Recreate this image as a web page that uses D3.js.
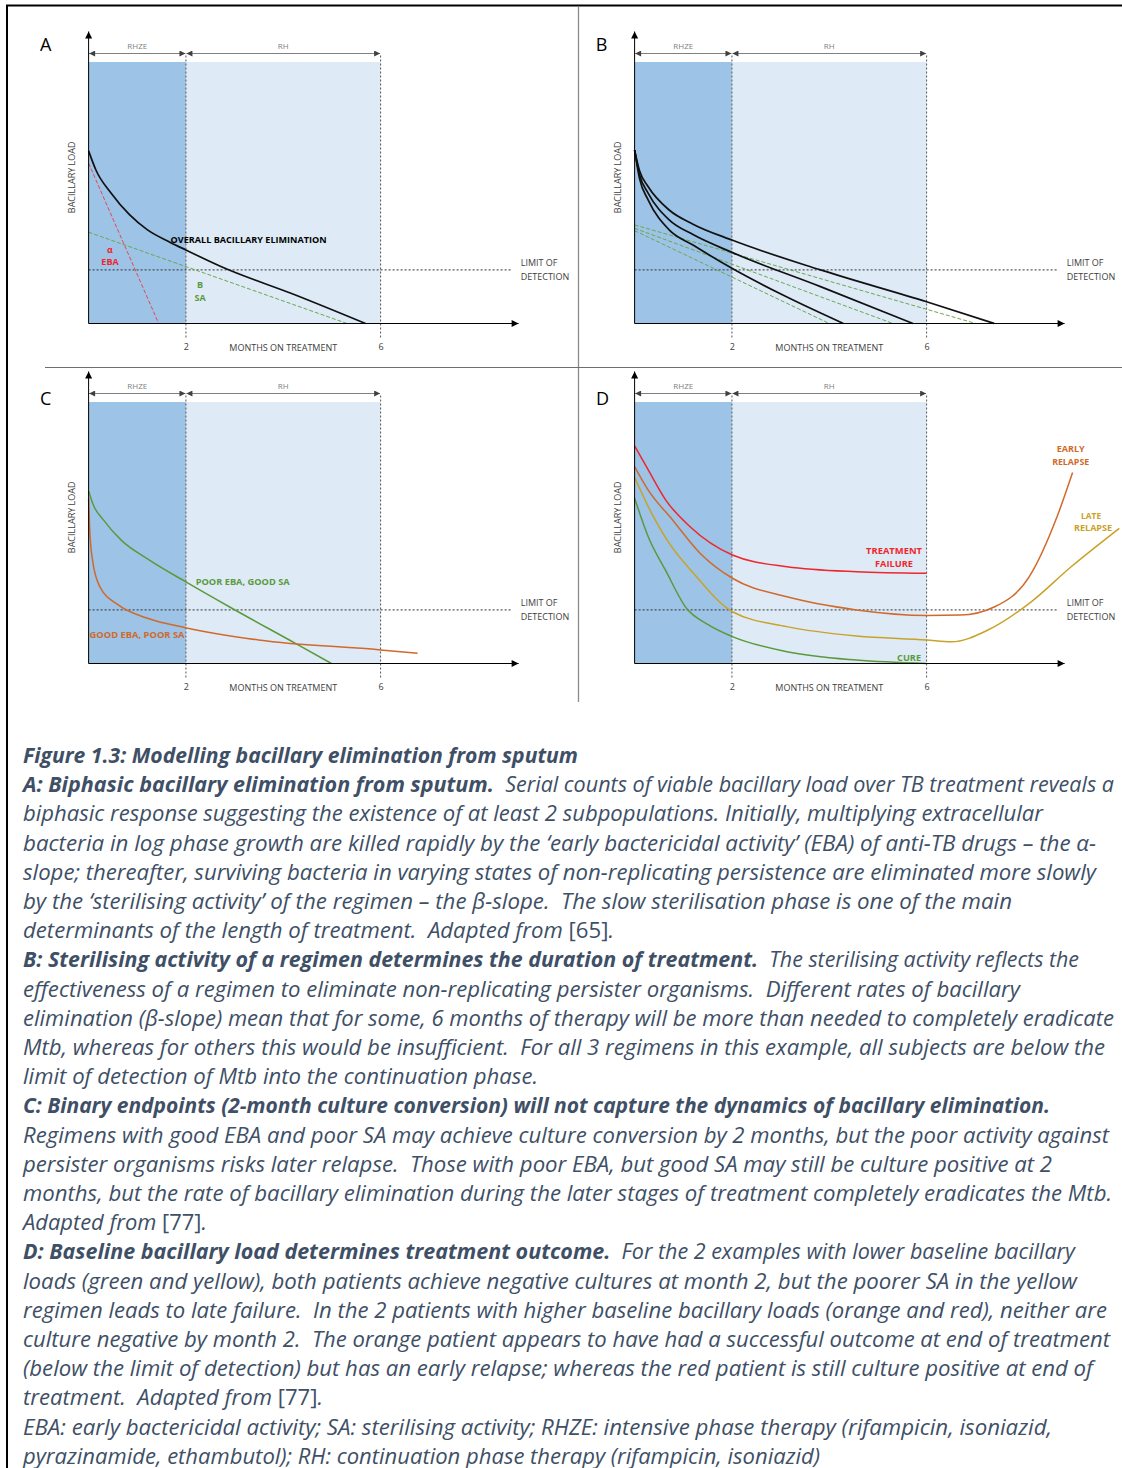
<!DOCTYPE html>
<html lang="en">
<head>
<meta charset="utf-8">
<title>Figure 1.3: Modelling bacillary elimination from sputum</title>
<script src="https://cdnjs.cloudflare.com/ajax/libs/d3/7.8.5/d3.min.js"></script>
<style>
  body { margin: 0; background: #fff; }
  svg { display: block; font-family: 'Open Sans', sans-serif; }
  .axislabel { font-size: 9px; fill: #404040; }
  .phase { font-size: 8px; fill: #808080; }
  .panelid { font-size: 18px; fill: #000; }
  .caption { font-size: 22px; fill: #3e4f66; font-style: italic; white-space: pre; }
</style>
</head>
<body>
<svg id="fig" width="1122" height="1468"></svg>
<script>
// ---- data (months, bacillary load in arbitrary units) ----
var monthTicks = [2, 6];
var phases = [{ name: "RHZE", from: 0, to: 2 }, { name: "RH", from: 2, to: 6 }];
var limitOfDetection = 2.05;

// A: biphasic elimination
var aOverall = [[0, 6.6], [0.15, 5.87], [0.46, 4.99], [0.84, 4.16], [1.21, 3.58], [1.67, 3.11], [2, 2.81], [2.73, 2.17], [4.25, 1.09], [5.69, 0]];
var aAlpha = [[0, 6.13], [1.44, 0]];
var aBeta = [[0, 3.49], [5.31, 0]];

// B: three regimens with different sterilising activity
var bSlow = [[0, 6.63], [0.1, 5.85], [0.28, 5.23], [0.71, 4.34], [1.2, 3.8], [2, 3.19], [3.82, 2.05], [6, 0.83], [7.39, 0]];
var bMid = [[0, 6.63], [0.1, 5.7], [0.28, 4.98], [0.71, 3.96], [1.2, 3.4], [2, 2.72], [3.82, 1.41], [5.72, 0]];
var bFast = [[0, 6.63], [0.1, 5.55], [0.28, 4.72], [0.71, 3.58], [1.2, 3.0], [2, 2.11], [3.11, 1.03], [4.29, 0]];
var bBetaSlow = [[0, 3.77], [7.01, 0]];
var bBetaMid = [[0, 3.64], [5.31, 0]];
var bBetaFast = [[0, 3.55], [4.0, 0]];

// C: good EBA / poor SA vs poor EBA / good SA
var cPoorEba = [[0, 6.6], [0.1, 6.05], [0.3, 5.5], [0.68, 4.7], [1.21, 4.0], [1.99, 3.13], [2.89, 2.17], [4.25, 0.77], [4.99, 0]];
var cGoodEba = [[0, 6.32], [0.02, 5.23], [0.08, 3.96], [0.23, 2.94], [0.61, 2.24], [1.21, 1.73], [1.99, 1.37], [3.49, 0.9], [6, 0.52], [6.76, 0.39]];

// D: baseline load and outcome
var dFailure = [[0, 8.32], [0.28, 7.4], [0.64, 6.25], [1.14, 5.23], [2.01, 4.15], [3.13, 3.7], [4.56, 3.51], [6, 3.45]];
var dEarly = [[0, 7.53], [0.28, 6.63], [0.78, 5.49], [1.35, 4.21], [2.01, 3.26], [3.13, 2.55], [4.56, 2.05], [6, 1.84], [6.69, 1.85], [7.4, 2.17], [8.11, 3.32], [8.68, 5.61], [9.0, 7.3]];
var dLate = [[0, 7.12], [0.28, 6.0], [0.71, 4.6], [1.21, 3.45], [2.01, 1.98], [3.13, 1.41], [4.56, 1.05], [6, 0.9], [6.51, 0.83], [7.26, 1.28], [8.11, 2.3], [8.97, 3.7], [9.96, 5.17]];
var dCure = [[0, 6.32], [0.28, 4.85], [0.64, 3.55], [1.07, 2.1], [1.5, 1.5], [2.01, 1.03], [3.13, 0.45], [4.56, 0.13], [6, 0]];

var captionLines = [
  [["Figure 1.3: Modelling bacillary elimination from sputum", "b"]],
  [["A: Biphasic bacillary elimination from sputum.", "b"], ["  Serial counts of viable bacillary load over TB treatment reveals a", "i"]],
  [["biphasic response suggesting the existence of at least 2 subpopulations. Initially, multiplying extracellular", "i"]],
  [["bacteria in log phase growth are killed rapidly by the \u2018early bactericidal activity\u2019 (EBA) of anti-TB drugs \u2013 the \u03b1-", "i"]],
  [["slope; thereafter, surviving bacteria in varying states of non-replicating persistence are eliminated more slowly", "i"]],
  [["by the \u2018sterilising activity\u2019 of the regimen \u2013 the \u03b2-slope.  The slow sterilisation phase is one of the main", "i"]],
  [["determinants of the length of treatment.  Adapted from ", "i"], ["[65]", "u"], [".", "i"]],
  [["B: Sterilising activity of a regimen determines the duration of treatment.", "b"], ["  The sterilising activity reflects the", "i"]],
  [["effectiveness of a regimen to eliminate non-replicating persister organisms.  Different rates of bacillary", "i"]],
  [["elimination (\u03b2-slope) mean that for some, 6 months of therapy will be more than needed to completely eradicate", "i"]],
  [["Mtb, whereas for others this would be insufficient.  For all 3 regimens in this example, all subjects are below the", "i"]],
  [["limit of detection of Mtb into the continuation phase.", "i"]],
  [["C: Binary endpoints (2-month culture conversion) will not capture the dynamics of bacillary elimination.", "b"]],
  [["Regimens with good EBA and poor SA may achieve culture conversion by 2 months, but the poor activity against", "i"]],
  [["persister organisms risks later relapse.  Those with poor EBA, but good SA may still be culture positive at 2", "i"]],
  [["months, but the rate of bacillary elimination during the later stages of treatment completely eradicates the Mtb.", "i"]],
  [["Adapted from ", "i"], ["[77]", "u"], [".", "i"]],
  [["D: Baseline bacillary load determines treatment outcome.", "b"], ["  For the 2 examples with lower baseline bacillary", "i"]],
  [["loads (green and yellow), both patients achieve negative cultures at month 2, but the poorer SA in the yellow", "i"]],
  [["regimen leads to late failure.  In the 2 patients with higher baseline bacillary loads (orange and red), neither are", "i"]],
  [["culture negative by month 2.  The orange patient appears to have had a successful outcome at end of treatment", "i"]],
  [["(below the limit of detection) but has an early relapse; whereas the red patient is still culture positive at end of", "i"]],
  [["treatment.  Adapted from ", "i"], ["[77]", "u"], [".", "i"]],
  [["EBA: early bactericidal activity; SA: sterilising activity; RHZE: intensive phase therapy (rifampicin, isoniazid,", "i"]],
  [["pyrazinamide, ethambutol); RH: continuation phase therapy (rifampicin, isoniazid)", "i"]]
];
// right edge of each caption line in the picture
var captionEnds = [578, 1114, 1043, 1096, 1096, 1012, 614, 1079, 1020, 1114, 1105, 538, 1050, 1109, 1052, 1112, 207, 1075, 1077, 1107, 1110, 1093, 323, 1052, 820];

// ---- colours ----
var col = {
  dark: "#9dc3e6", light: "#deebf7", black: "#111",
  red: "#f0262b", green: "#5b9a3c", greenDash: "#6aa84f", orange: "#d0692b", yellow: "#c9a227"
};

var svg = d3.select("#fig");
var defs = svg.append("defs");

function marker(id, fill, w, h) {
  defs.append("marker")
    .attr("id", id)
    .attr("viewBox", "0 0 10 10")
    .attr("refX", 10).attr("refY", 5)
    .attr("markerWidth", w).attr("markerHeight", h)
    .attr("markerUnits", "userSpaceOnUse")
    .attr("orient", "auto-start-reverse")
    .append("path").attr("d", "M0,0L10,5L0,10Z").attr("fill", fill);
}
marker("axisArrow", "#000", 8, 7);
marker("phaseArrow", "#404040", 7, 6);

// frame lines
svg.append("line").attr("x1", 6).attr("x2", 1122).attr("y1", 5.5).attr("y2", 5.5).attr("stroke", "#000").attr("stroke-width", 2);
svg.append("line").attr("x1", 7).attr("x2", 7).attr("y1", 5).attr("y2", 1468).attr("stroke", "#000").attr("stroke-width", 2);
svg.append("line").attr("x1", 578.5).attr("x2", 578.5).attr("y1", 7).attr("y2", 702).attr("stroke", "#8c8c8c").attr("stroke-width", 1.3);
svg.append("line").attr("x1", 45).attr("x2", 1122).attr("y1", 367.5).attr("y2", 367.5).attr("stroke", "#6e6e6e").attr("stroke-width", 1.2);

var x = d3.scaleLinear().domain([0, 6]).range([0, 292]);
var y = d3.scaleLinear().domain([0, 10]).range([0, -261.5]);
var line = d3.line().x(function(d) { return x(d[0]); }).y(function(d) { return y(d[1]); });

function drawPanel(cfg) {
  var g = svg.append("g").attr("transform", "translate(" + cfg.x0 + "," + cfg.y0 + ")");

  // treatment phases
  g.append("rect").attr("x", x(0)).attr("y", y(10)).attr("width", x(2) - x(0)).attr("height", -y(10)).attr("fill", col.dark);
  g.append("rect").attr("x", x(2)).attr("y", y(10)).attr("width", x(6) - x(2)).attr("height", -y(10)).attr("fill", col.light);

  g.selectAll(".phaseline").data(monthTicks).enter().append("line")
    .attr("x1", function(d) { return x(d); }).attr("x2", function(d) { return x(d); })
    .attr("y1", -268).attr("y2", 14)
    .attr("stroke", "#555").attr("stroke-width", 1).attr("stroke-dasharray", "2,2");

  g.selectAll(".phasearrow").data(phases).enter().append("line")
    .attr("x1", function(d) { return x(d.from) + 0.5; }).attr("x2", function(d) { return x(d.to) - 0.5; })
    .attr("y1", -270).attr("y2", -270)
    .attr("stroke", "#808080").attr("stroke-width", 1)
    .attr("marker-start", "url(#phaseArrow)").attr("marker-end", "url(#phaseArrow)");
  g.selectAll(".phasename").data(phases).enter().append("text")
    .attr("class", "phase")
    .attr("x", function(d) { return x((d.from + d.to) / 2); }).attr("y", -274.5)
    .attr("text-anchor", "middle")
    .text(function(d) { return d.name; });

  // limit of detection
  g.append("line").attr("x1", 0).attr("x2", x(8.7)).attr("y1", y(limitOfDetection)).attr("y2", y(limitOfDetection))
    .attr("stroke", "#333").attr("stroke-width", 1).attr("stroke-dasharray", "2,2");
  g.append("text").attr("class", "axislabel").attr("x", x(8.88)).attr("y", y(limitOfDetection) - 3.5).text("LIMIT OF");
  g.append("text").attr("class", "axislabel").attr("x", x(8.88)).attr("y", y(limitOfDetection) + 10).text("DETECTION");

  // curves
  cfg.series.forEach(function(s) {
    g.append("path").datum(s.data)
      .attr("d", line.curve(s.data.length > 2 ? d3.curveMonotoneX : d3.curveLinear))
      .attr("fill", "none")
      .attr("stroke", s.color)
      .attr("stroke-width", s.width || 1.5)
      .attr("stroke-dasharray", s.dash || null);
  });

  // axes
  g.append("line").attr("x1", 0).attr("x2", 0).attr("y1", 0).attr("y2", -292)
    .attr("stroke", "#000").attr("stroke-width", 1).attr("marker-end", "url(#axisArrow)");
  g.append("line").attr("x1", 0).attr("x2", 430).attr("y1", 0).attr("y2", 0)
    .attr("stroke", "#000").attr("stroke-width", 1).attr("marker-end", "url(#axisArrow)");

  var xAxis = g.append("g").call(d3.axisBottom(x).tickValues(monthTicks).tickFormat(d3.format("d")).tickSize(0).tickPadding(20.5));
  xAxis.select(".domain").remove();
  xAxis.selectAll("text").attr("font-family", "'Open Sans', sans-serif").attr("font-size", 9).attr("fill", "#404040");

  g.append("text").attr("class", "axislabel").attr("x", x(4)).attr("y", 27).attr("text-anchor", "middle").text("MONTHS ON TREATMENT");
  g.append("text").attr("class", "axislabel").attr("font-size", 8)
    .attr("transform", "translate(-14," + y(5.59) + ") rotate(-90)")
    .attr("text-anchor", "middle").text("BACILLARY LOAD");

  g.append("text").attr("class", "panelid").attr("x", cfg.idx).attr("y", cfg.idy).attr("text-anchor", "middle").text(cfg.id);

  // annotations
  (cfg.labels || []).forEach(function(l) {
    var t = g.append("text")
      .attr("x", x(l.t)).attr("y", y(l.v))
      .attr("text-anchor", l.anchor || "middle")
      .attr("font-size", l.size || 9.5)
      .attr("font-weight", l.bold === false ? "normal" : "bold")
      .attr("fill", l.color)
      .text(l.text);
    if (l.width) t.attr("textLength", l.width).attr("lengthAdjust", "spacingAndGlyphs");
  });
}

drawPanel({
  id: "A", x0: 88.6, y0: 323.5, idx: -43, idy: -272.5,
  series: [
    { data: aAlpha, color: "#e8474f", width: 1, dash: "4,2" },
    { data: aBeta, color: col.greenDash, width: 1, dash: "4,2" },
    { data: aOverall, color: col.black, width: 1.7 }
  ],
  labels: [
    { text: "OVERALL BACILLARY ELIMINATION", t: 1.685, v: 3.06, anchor: "start", color: "#000", width: 156, size: 9 },
    { text: "\u03b1", t: 0.44, v: 2.71, color: col.red, size: 9 },
    { text: "EBA", t: 0.44, v: 2.24, color: col.red, size: 9 },
    { text: "B", t: 2.29, v: 1.34, color: col.green, size: 9 },
    { text: "SA", t: 2.29, v: 0.86, color: col.green, size: 9 }
  ]
});

drawPanel({
  id: "B", x0: 634.6, y0: 323.5, idx: -33, idy: -272.5,
  series: [
    { data: bBetaSlow, color: col.greenDash, width: 1, dash: "4,2" },
    { data: bBetaMid, color: col.greenDash, width: 1, dash: "4,2" },
    { data: bBetaFast, color: col.greenDash, width: 1, dash: "4,2" },
    { data: bSlow, color: col.black, width: 1.7 },
    { data: bMid, color: col.black, width: 1.7 },
    { data: bFast, color: col.black, width: 1.7 }
  ]
});

drawPanel({
  id: "C", x0: 88.6, y0: 663.5, idx: -43, idy: -258.5,
  series: [
    { data: cPoorEba, color: col.green, width: 1.5 },
    { data: cGoodEba, color: col.orange, width: 1.5 }
  ],
  labels: [
    { text: "POOR EBA, GOOD SA", t: 2.2, v: 3.02, anchor: "start", color: col.green, width: 94, size: 9 },
    { text: "GOOD EBA, POOR SA", t: 0.02, v: 0.98, anchor: "start", color: col.orange, width: 95, size: 9 }
  ]
});

drawPanel({
  id: "D", x0: 634.6, y0: 663.5, idx: -32, idy: -258.5,
  series: [
    { data: dCure, color: col.green, width: 1.5 },
    { data: dLate, color: col.yellow, width: 1.5 },
    { data: dEarly, color: col.orange, width: 1.5 },
    { data: dFailure, color: col.red, width: 1.5 }
  ],
  labels: [
    { text: "TREATMENT", t: 5.33, v: 4.19, color: col.red, width: 56, size: 9 },
    { text: "FAILURE", t: 5.33, v: 3.69, color: col.red, width: 38, size: 9 },
    { text: "EARLY", t: 8.96, v: 8.07, color: col.orange, width: 28, size: 9 },
    { text: "RELAPSE", t: 8.96, v: 7.59, color: col.orange, width: 37, size: 9 },
    { text: "LATE", t: 9.38, v: 5.54, color: col.yellow, width: 20, size: 9 },
    { text: "RELAPSE", t: 9.42, v: 5.07, color: col.yellow, width: 38, size: 9 },
    { text: "CURE", t: 5.64, v: 0.1, color: col.green, width: 24, size: 9 }
  ]
});

// ---- caption ----
var cap = svg.append("g");
captionLines.forEach(function(segs, i) {
  var t = cap.append("text")
    .attr("class", "caption")
    .attr("x", 23)
    .attr("y", 763 + 29.2 * i)
    .attr("textLength", captionEnds[i] - 23)
    .attr("lengthAdjust", "spacingAndGlyphs");
  segs.forEach(function(s) {
    t.append("tspan")
      .attr("font-weight", s[1] === "b" ? "bold" : "normal")
      .attr("font-style", s[1] === "u" ? "normal" : "italic")
      .text(s[0]);
  });
});
</script>
</body>
</html>
